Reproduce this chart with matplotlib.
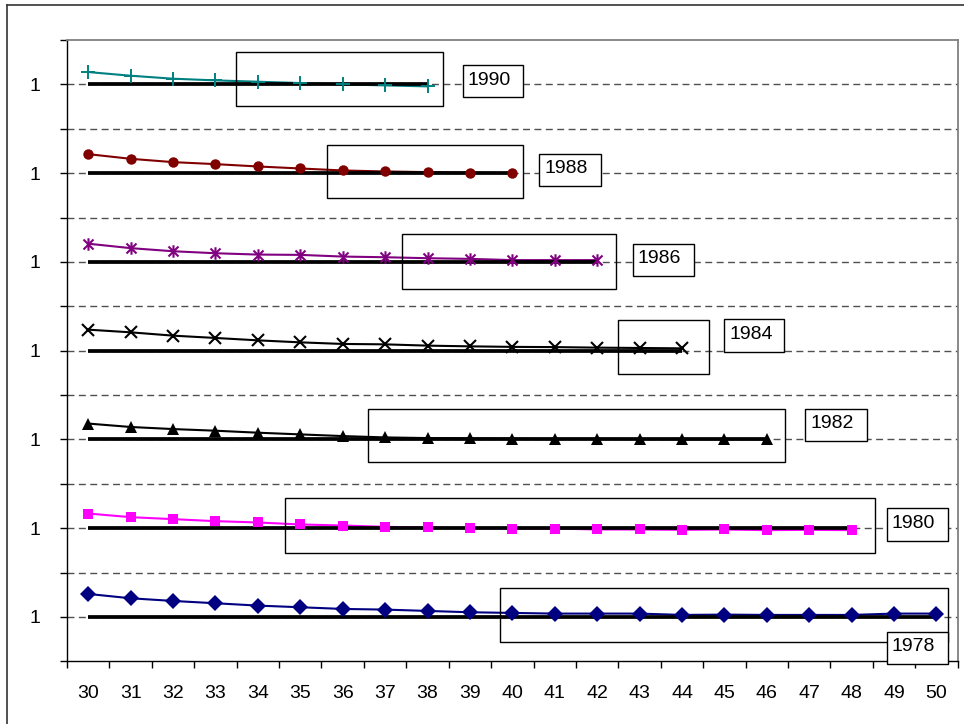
import matplotlib
matplotlib.use('Agg')
import matplotlib.pyplot as plt
from matplotlib.patches import Rectangle
from matplotlib.path import Path
from matplotlib.lines import Line2D

plt.rcParams['font.family'] = ['Liberation Sans', 'DejaVu Sans']

# ---------------- data ----------------
ages = list(range(30, 51))
years = [1990, 1988, 1986, 1984, 1982, 1980, 1978]

r1990 = [1.278, 1.195, 1.128, 1.090, 1.060, 1.030, 1.000, 0.977, 0.955]
r1988 = [1.428, 1.323, 1.248, 1.203, 1.150, 1.105, 1.060, 1.038, 1.023, 1.008, 1.000]
r1986 = [1.410, 1.310, 1.240, 1.195, 1.165, 1.158, 1.120, 1.105, 1.083, 1.068,
         1.040, 1.040, 1.040]
r1984 = [1.473, 1.413, 1.338, 1.286, 1.232, 1.187, 1.151, 1.142, 1.113, 1.097,
         1.085, 1.080, 1.068, 1.060, 1.052]
r1982 = [1.357, 1.280, 1.233, 1.196, 1.151, 1.113, 1.075, 1.045, 1.030, 1.023,
         1.015, 1.010, 1.010, 1.008, 1.005, 1.005, 1.000]
r1980 = [1.330, 1.248, 1.203, 1.158, 1.128, 1.083, 1.060, 1.030, 1.015, 1.000,
         0.992, 0.992, 0.970, 0.970, 0.962, 0.970, 0.955, 0.962, 0.955]
r1978 = [1.518, 1.420, 1.360, 1.308, 1.255, 1.218, 1.180, 1.165, 1.135, 1.105,
         1.090, 1.075, 1.075, 1.075, 1.045, 1.052, 1.045, 1.045, 1.045, 1.075, 1.075]

series = [r1990, r1988, r1986, r1984, r1982, r1980, r1978]
y_tick_labels = ['', '1', '', '1', '', '1', '', '1', '', '1', '', '1', '', '1', '']

# ---------------- styles ----------------
star = Path([(-1, -1), (1, 1), (-1, 1), (1, -1), (0, -1.25), (0, 1.25)],
            [Path.MOVETO, Path.LINETO, Path.MOVETO, Path.LINETO, Path.MOVETO, Path.LINETO])
styles = [
    dict(color='#008080', marker='+', ms=10, mew=1.4, mfc='#008080'),
    dict(color='#800000', marker='o', ms=7.5, mew=0, mfc='#800000'),
    dict(color='#800080', marker=star, ms=9, mew=1.5, mfc='#800080'),
    dict(color='#000000', marker='x', ms=8.5, mew=1.5, mfc='#000000'),
    dict(color='#000000', marker='^', ms=9, mew=0, mfc='#000000'),
    dict(color='#FF00FF', marker='s', ms=7.5, mew=0, mfc='#FF00FF'),
    dict(color='#000080', marker='D', ms=8, mew=0, mfc='#000080'),
]
# highlight boxes (x0, x1, lower, upper relative to baseline)
hl_boxes = [(33.49, 38.37, -0.49, 0.73), (35.64, 40.26, -0.56, 0.63),
            (37.41, 42.45, -0.60, 0.62), (42.48, 44.63, -0.53, 0.70),
            (36.59, 46.43, -0.52, 0.68), (34.64, 48.54, -0.56, 0.67),
            (39.70, 50.27, -0.57, 0.66)]
# label boxes (x0, x1, lower, upper relative to baseline)
lb_boxes = [(38.83, 40.25, -0.293, 0.442), (40.64, 42.08, -0.292, 0.436),
            (42.84, 44.29, -0.321, 0.407), (44.99, 46.40, -0.027, 0.710),
            (46.91, 48.37, -0.034, 0.688), (48.83, 50.28, -0.279, 0.456),
            (48.83, 50.28, -1.068, -0.346)]

# ---------------- figure ----------------
fig = plt.figure(figsize=(9.64, 7.24), dpi=100)
ax = fig.add_axes([67 / 964, 1 - 661.3 / 724, (957.7 - 67) / 964, (661.3 - 40) / 724])

ax.set_xlim(29.5, 50.5)
ax.set_ylim(0, 14)

for k in range(1, 14):
    ax.axhline(k, color='#505050', lw=1.0, dashes=(5, 3.2), zorder=1)

for i, (yr, vals, st) in enumerate(zip(years, series, styles)):
    base = 13 - 2 * i
    xs = ages[:len(vals)]
    ys = [v - 1 + base for v in vals]
    ax.plot(xs, ys, color=st['color'], lw=1.5, zorder=3)
    ax.plot([xs[0], xs[-1]], [base, base], color='black', lw=2.7,
            solid_capstyle='butt', zorder=4)
    ax.plot(xs, ys, ls='none', marker=st['marker'], ms=st['ms'],
            mew=st['mew'], mec=st['color'], mfc=st['mfc'], zorder=5)
    x0, x1, lo, hi = hl_boxes[i]
    ax.add_patch(Rectangle((x0, base + lo), x1 - x0, hi - lo, fill=False,
                           ec='black', lw=1.0, zorder=6, clip_on=False))
    x0, x1, lo, hi = lb_boxes[i]
    ax.add_patch(Rectangle((x0, base + lo), x1 - x0, hi - lo, fc='white',
                           ec='black', lw=1.0, zorder=7, clip_on=False))
    ax.text(x0 + 0.12, base + lo + 0.29, str(yr), fontsize=14, ha='left',
            va='baseline', zorder=8, clip_on=False)

# axes styling
for s in ['left', 'bottom']:
    ax.spines[s].set_color('black')
    ax.spines[s].set_linewidth(1.0)
for s in ['top', 'right']:
    ax.spines[s].set_color('#808080')
    ax.spines[s].set_linewidth(1.3)

ax.set_yticks(range(0, 15))
ax.set_yticklabels(y_tick_labels)
ax.tick_params(axis='y', direction='out', length=5, width=1.0, pad=14,
               labelsize=14, colors='black')

ax.set_xticks([29.5 + k for k in range(22)])
ax.set_xticklabels([])
ax.set_xticks(ages, minor=True)
ax.set_xticklabels([str(a) for a in ages], minor=True)
ax.tick_params(axis='x', which='major', direction='out', length=5, width=1.0)
ax.tick_params(axis='x', which='minor', length=0, pad=17, labelsize=14)

# outer chart-area border
fig.add_artist(Line2D([7 / 964, 1.0], [1 - 5 / 724, 1 - 5 / 724],
                      transform=fig.transFigure, color='#333333', lw=1.2))
fig.add_artist(Line2D([7 / 964, 7 / 964], [0, 1 - 5 / 724],
                      transform=fig.transFigure, color='#333333', lw=1.2))

fig.savefig('out.png', dpi=100)
